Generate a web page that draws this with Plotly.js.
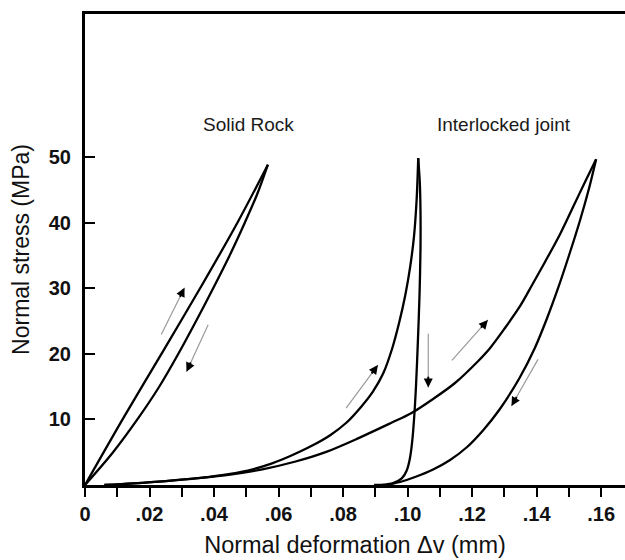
<!DOCTYPE html>
<html>
<head>
<meta charset="utf-8">
<script src="https://cdn.plot.ly/plotly-3.0.1.min.js"></script>
<style>
  html, body { margin: 0; padding: 0; background: #fff; }
  #chart { width: 625px; height: 560px; }
</style>
</head>
<body>
<div id="chart"></div>
<script>
// ---- Data (normal deformation in mm, normal stress in MPa) ----
// Solid rock: loading and unloading
const rockLoadX   = [0, 0.0121, 0.0244, 0.0360, 0.0472, 0.0567];
const rockLoadY   = [0, 10.4, 20.6, 30.3, 40.0, 48.9];
const rockUnloadX = [0, 0.0087, 0.0165, 0.0230, 0.0289, 0.0344, 0.0397, 0.0448, 0.0495, 0.0533, 0.0567];
const rockUnloadY = [0, 5.0, 10.2, 15.0, 20.0, 25.0, 30.0, 35.0, 40.0, 44.3, 48.9];

// Interlocked joint, first cycle: loading and unloading
const jointLoad1X   = [0.006, 0.015, 0.025, 0.035, 0.045, 0.052, 0.058, 0.064, 0.070, 0.076, 0.081, 0.0857, 0.0893, 0.0925, 0.0952, 0.0974, 0.0993, 0.1008, 0.1020, 0.1028, 0.1033];
const jointLoad1Y   = [0, 0.25, 0.6, 1.05, 1.7, 2.4, 3.3, 4.5, 5.9, 7.6, 9.5, 12.0, 14.3, 17.1, 20.8, 24.8, 29.0, 33.3, 38.0, 43.5, 49.9];
const jointUnload1X = [0.1033, 0.1038, 0.1040, 0.1040, 0.1037, 0.1032, 0.1026, 0.1020, 0.1014, 0.1007, 0.0998, 0.0982, 0.0955, 0.0925, 0.0896];
const jointUnload1Y = [49.9, 46.0, 42.0, 36.0, 29.0, 22.0, 15.0, 10.0, 6.5, 4.0, 2.3, 1.0, 0.3, 0.05, 0];

// Interlocked joint, second cycle: loading and unloading
const jointLoad2X   = [0.006, 0.015, 0.025, 0.035, 0.045, 0.055, 0.065, 0.075, 0.085, 0.095, 0.1011, 0.1079, 0.1147, 0.1216, 0.1256, 0.1302, 0.1349, 0.1386, 0.1426, 0.1473, 0.1513, 0.1553, 0.15845];
const jointLoad2Y   = [0, 0.25, 0.6, 1.05, 1.6, 2.4, 3.55, 5.1, 7.2, 9.5, 10.95, 13.13, 15.57, 18.78, 20.92, 23.97, 27.33, 30.53, 34.05, 38.32, 42.44, 46.56, 49.73];
const jointUnload2X = [0.09355, 0.09767, 0.10233, 0.10791, 0.11318, 0.11845, 0.12350, 0.12840, 0.13470, 0.13945, 0.14326, 0.14667, 0.15008, 0.15349, 0.15628, 0.15845];
const jointUnload2Y = [0, 0.46, 1.22, 2.37, 3.82, 5.80, 8.40, 11.45, 16.34, 20.92, 25.50, 30.08, 35.11, 40.46, 45.34, 49.73];

// Direction arrows (tail -> tip)
const arrowTailX = [0.02341, 0.03840, 0.0806, 0.10641, 0.11333, 0.1407];
const arrowTailY = [22.75, 24.69, 11.5, 23.3, 18.8, 19.4];
const arrowTipX  = [0.03085, 0.03147, 0.0908, 0.10641, 0.1249, 0.1322];
const arrowTipY  = [30.12, 17.3, 18.3, 14.9, 25.2, 12.06];

// Labels
const curveLabels = ["Solid Rock", "Interlocked joint"];
const curveLabelX = [0.0508, 0.1299];
const curveLabelY = [55.0, 55.0];

// Axis ticks
const xTickVals = [0, 0.01, 0.02, 0.03, 0.04, 0.05, 0.06, 0.07, 0.08, 0.09, 0.10, 0.11, 0.12, 0.13, 0.14, 0.15, 0.16];
const xTickText = ["0", "", ".02", "", ".04", "", ".06", "", ".08", "", ".10", "", ".12", "", ".14", "", ".16"];
const yTickVals = [10, 20, 30, 40, 50];
const yTickText = ["10", "20", "30", "40", "50"];

// ---- Build chart ----
const FONT = "Liberation Sans, Arial, Helvetica, sans-serif";
const lineStyle = {color: "#000", width: 2.3, shape: "spline", smoothing: 0.9};
function curve(x, y) {
  return {x: x, y: y, type: "scatter", mode: "lines", line: lineStyle, hoverinfo: "skip", showlegend: false};
}
const traces = [
  curve(rockLoadX, rockLoadY),
  curve(rockUnloadX, rockUnloadY),
  curve(jointLoad1X, jointLoad1Y),
  curve(jointUnload1X, jointUnload1Y),
  curve(jointLoad2X, jointLoad2Y),
  curve(jointUnload2X, jointUnload2Y)
];

const annotations = [];
for (let i = 0; i < arrowTailX.length; i++) {
  // grey shaft
  annotations.push({
    x: arrowTipX[i], y: arrowTipY[i], ax: arrowTailX[i], ay: arrowTailY[i],
    xref: "x", yref: "y", axref: "x", ayref: "y",
    text: "", showarrow: true, arrowhead: 0, arrowwidth: 1.2, arrowcolor: "#9a9a9a"
  });
  // black head (short segment near the tip)
  const f = 0.22;
  annotations.push({
    x: arrowTipX[i], y: arrowTipY[i],
    ax: arrowTipX[i] - f * (arrowTipX[i] - arrowTailX[i]),
    ay: arrowTipY[i] - f * (arrowTipY[i] - arrowTailY[i]),
    xref: "x", yref: "y", axref: "x", ayref: "y",
    text: "", showarrow: true, arrowhead: 2, arrowsize: 0.9, arrowwidth: 2, arrowcolor: "#000"
  });
}
for (let i = 0; i < curveLabels.length; i++) {
  annotations.push({
    x: curveLabelX[i], y: curveLabelY[i], xref: "x", yref: "y",
    text: curveLabels[i], showarrow: false,
    font: {family: FONT, size: 19, color: "#1a1a1a"}
  });
}

const layout = {
  width: 625, height: 560,
  margin: {l: 85, r: 0, t: 14, b: 75, autoexpand: false},
  paper_bgcolor: "#fff", plot_bgcolor: "#fff",
  showlegend: false,
  xaxis: {
    range: [0, 0.1674], autorange: false,
    showgrid: false, zeroline: false,
    showline: true, linewidth: 3, linecolor: "#000", mirror: true,
    ticks: "outside", ticklen: 9, tickwidth: 2, tickcolor: "#000",
    tickmode: "array", tickvals: xTickVals, ticktext: xTickText,
    tickfont: {family: FONT, size: 20, color: "#111", weight: "bold"},
    title: {text: "Normal deformation \u0394v (mm)", font: {family: FONT, size: 23.5, color: "#111"}, standoff: 13}
  },
  yaxis: {
    range: [0, 71.9], autorange: false,
    showgrid: false, zeroline: false,
    showline: true, linewidth: 3, linecolor: "#000",
    ticks: "inside", ticklen: 10, tickwidth: 2, tickcolor: "#000",
    tickmode: "array", tickvals: yTickVals, ticktext: yTickText,
    tickfont: {family: FONT, size: 20, color: "#111", weight: "bold"},
    ticklabelstandoff: 7,
    title: {text: "Normal stress (MPa)", font: {family: FONT, size: 23, color: "#111"}, standoff: 13}
  },
  annotations: annotations
};

Plotly.newPlot("chart", traces, layout, {staticPlot: true, displayModeBar: false});
</script>
</body>
</html>
